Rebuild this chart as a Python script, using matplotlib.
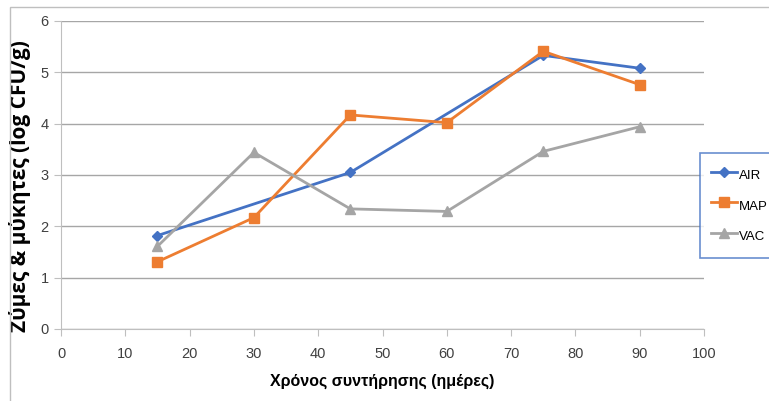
import matplotlib
matplotlib.use("Agg")
import matplotlib.pyplot as plt
from matplotlib.patches import Rectangle

days = [15, 30, 45, 60, 75, 90]
air_days = [15, 45, 75, 90]
air = [1.82, 3.05, 5.33, 5.08]
map_vals = [1.31, 2.17, 4.17, 4.02, 5.41, 4.76]
vac = [1.61, 3.44, 2.34, 2.29, 3.46, 3.94]
xticks = list(range(0, 101, 10))
yticks = list(range(0, 7))

plt.rcParams['font.family'] = ['Liberation Sans', 'DejaVu Sans']

fig = plt.figure(figsize=(7.69, 4.01), dpi=100)
ax = fig.add_axes([61/769, 1-329/401, (704-61)/769, (329-21)/401])

# outer frame of the chart area
fig.patches.append(Rectangle((10/769, -0.1), 1.2, 1-7/401+0.1, transform=fig.transFigure,
                             fill=False, edgecolor='#BFBFBF', lw=1))

ax.plot(air_days, air, color='#4472C4', lw=2, marker='D', ms=5, label='AIR')
ax.plot(days, map_vals, color='#ED7D31', lw=2, marker='s', ms=7, label='MAP')
ax.plot(days, vac, color='#A5A5A5', lw=2, marker='^', ms=7, label='VAC')

ax.set_xlim(0, 100)
ax.set_ylim(0, 6)
ax.set_xticks(xticks)
ax.set_yticks(yticks)
ax.grid(axis='y', color='#A6A6A6', lw=1)
ax.set_axisbelow(True)
for s in ['top', 'right']:
    ax.spines[s].set_visible(False)
for s in ['left', 'bottom']:
    ax.spines[s].set_color('#BFBFBF')
ax.tick_params(axis='both', colors='#BFBFBF', labelcolor='#404040', labelsize=10.5, length=5)
ax.tick_params(axis='x', pad=8)
ax.tick_params(axis='y', pad=4)

ax.set_xlabel('Χρόνος συντήρησης (ημέρες)', fontsize=11.5, fontweight='bold', color='black', labelpad=9)
ax.set_ylabel('Ζύμες & μύκητες (log CFU/g)', fontsize=15, fontweight='bold',
              family=['Open Sans', 'DejaVu Sans'], color='black')
ax.yaxis.set_label_coords((31-61)/643, (329-186)/308)

leg = fig.legend(loc='upper left', bbox_to_anchor=(700/769, 1-153/401), frameon=True,
                 fancybox=False, edgecolor='#4472C4', fontsize=9.5, handlelength=1.9,
                 handleheight=2.1, labelspacing=0.7, borderpad=0.87, handletextpad=0.2,
                 borderaxespad=0)
leg.get_frame().set_linewidth(1.2)

fig.savefig('out.png', dpi=100)
